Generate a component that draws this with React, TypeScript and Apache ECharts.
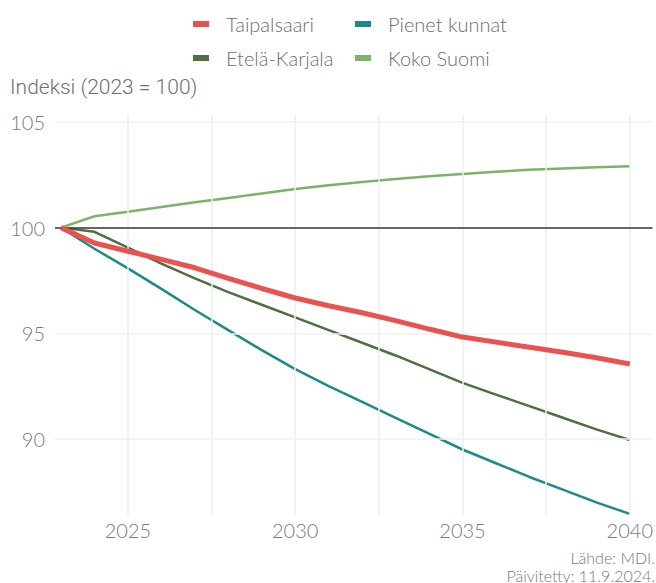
import React, { useEffect, useRef } from "react";
import * as echarts from "echarts";

const years = [2023, 2024, 2025, 2026, 2027, 2028, 2029, 2030, 2031, 2032, 2033, 2034, 2035, 2036, 2037, 2038, 2039, 2040];
const taipalsaari = [100, 99.27, 98.88, 98.5, 98.1, 97.6, 97.12, 96.67, 96.3, 95.97, 95.6, 95.2, 94.82, 94.58, 94.34, 94.1, 93.84, 93.55];
const pienetKunnat = [100, 99.0, 98.07, 97.1, 96.1, 95.15, 94.2, 93.3, 92.5, 91.75, 91.0, 90.25, 89.5, 88.85, 88.2, 87.6, 87.0, 86.45];
const etelaKarjala = [100, 99.8, 99.05, 98.3, 97.6, 96.95, 96.35, 95.75, 95.15, 94.55, 93.95, 93.3, 92.65, 92.1, 91.55, 91.0, 90.45, 89.95];
const kokoSuomi = [100, 100.54, 100.75, 100.98, 101.2, 101.4, 101.62, 101.83, 102.0, 102.16, 102.3, 102.43, 102.54, 102.64, 102.74, 102.8, 102.86, 102.9];

const seriesNames = ["Taipalsaari", "Pienet kunnat", "Etelä-Karjala", "Koko Suomi"];
const xTickLabels = [2025, 2030, 2035, 2040];
const xGridLines = [2025, 2027.5, 2030, 2032.5, 2035, 2037.5, 2040];
const yTickLabels = [90, 95, 100, 105];
const yGridLines = [90, 95, 105];
const baseline = 100;

const colors = ["#e9524e", "#1b8c85", "#4e6f3f", "#7cb36b"];

export default function App() {
  const ref = useRef<HTMLDivElement>(null);
  useEffect(() => {
    if (!ref.current) return;
    const chart = echarts.init(ref.current, undefined, { renderer: "svg" });
    const pair = (vals: number[]) => years.map((y, i) => [y, vals[i]]);
    const font = "Lato, 'Open Sans', sans-serif";
    const legendPos = [
      { left: 193, top: 14 },
      { left: 355, top: 14 },
      { left: 193, top: 48 },
      { left: 355, top: 48 },
    ];
    chart.setOption({
      animation: false,
      backgroundColor: "#ffffff",
      grid: { left: 55, right: 1, top: 115, bottom: 68, containLabel: false },
      legend: seriesNames.map((n, i) => ({
        data: [n],
        left: legendPos[i].left,
        top: legendPos[i].top,
        padding: 0,
        icon: "rect",
        itemWidth: 16,
        itemHeight: 6,
        selectedMode: false,
        textStyle: { fontFamily: font, fontWeight: 300, fontSize: 20, color: "#6e6e6e", padding: [0, 0, 0, 12], lineHeight: 20 },
      })),
      xAxis: {
        type: "value",
        min: 2022.82,
        max: 2040.68,
        splitLine: { show: false },
        axisLine: { show: false },
        axisTick: { show: false },
        axisLabel: {
          customValues: xTickLabels,
          formatter: (v: number) => String(v),
          fontFamily: font,
          fontWeight: 300,
          fontSize: 20,
          color: "#7a7a7a",
          margin: 5,
        },
      },
      yAxis: {
        type: "value",
        min: 86.4,
        max: 105.33,
        splitLine: { show: false },
        axisLine: { show: false },
        axisTick: { show: false },
        axisLabel: {
          customValues: yTickLabels,
          formatter: (v: number) => String(v),
          fontFamily: font,
          fontWeight: 300,
          fontSize: 20,
          color: "#7a7a7a",
          margin: 10,
        },
      },
      graphic: [
        {
          type: "text",
          left: 10,
          top: 76,
          style: { text: "Indeksi (2023 = 100)", font: "300 21px Roboto, sans-serif", fill: "#707070" },
        },
        {
          type: "text",
          right: 1,
          top: 549,
          style: { text: "Lähde: MDI.", font: "300 16px Lato, sans-serif", fill: "#777777", textAlign: "right" },
        },
        {
          type: "text",
          right: 1,
          top: 567,
          style: { text: "Päivitetty: 11.9.2024.", font: "300 16px Lato, sans-serif", fill: "#777777", textAlign: "right" },
        },
      ],
      series: [
        {
          name: "grid",
          type: "line",
          data: [[2023, 100]],
          showSymbol: false,
          symbol: "none",
          lineStyle: { width: 0 },
          silent: true,
          z: 1,
          markLine: {
            silent: true,
            symbol: "none",
            label: { show: false },
            animation: false,
            data: [
              ...xGridLines.map((x) => ({ xAxis: x, lineStyle: { color: "#eeeeee", width: 1.5, type: "solid" } })),
              ...yGridLines.map((y) => ({ yAxis: y, lineStyle: { color: "#f0f0f0", width: 1.5, type: "solid" } })),
              { yAxis: baseline, lineStyle: { color: "#333333", width: 1.5, type: "solid" } },
            ],
          },
        },
        {
          name: seriesNames[0],
          type: "line",
          data: pair(taipalsaari),
          showSymbol: false,
          symbol: "none",
          color: colors[0],
          lineStyle: { width: 5, color: colors[0] },
          z: 5,
        },
        {
          name: seriesNames[1],
          type: "line",
          data: pair(pienetKunnat),
          showSymbol: false,
          symbol: "none",
          color: colors[1],
          lineStyle: { width: 2.5, color: colors[1] },
          z: 4,
        },
        {
          name: seriesNames[2],
          type: "line",
          data: pair(etelaKarjala),
          showSymbol: false,
          symbol: "none",
          color: colors[2],
          lineStyle: { width: 2.5, color: colors[2] },
          z: 4,
        },
        {
          name: seriesNames[3],
          type: "line",
          data: pair(kokoSuomi),
          showSymbol: false,
          symbol: "none",
          color: colors[3],
          lineStyle: { width: 2.5, color: colors[3] },
          z: 4,
        },
      ],
    });
    return () => chart.dispose();
  }, []);
  return <div ref={ref} style={{ width: 656, height: 583, position: "absolute", left: 0, top: 0 }} />;
}
